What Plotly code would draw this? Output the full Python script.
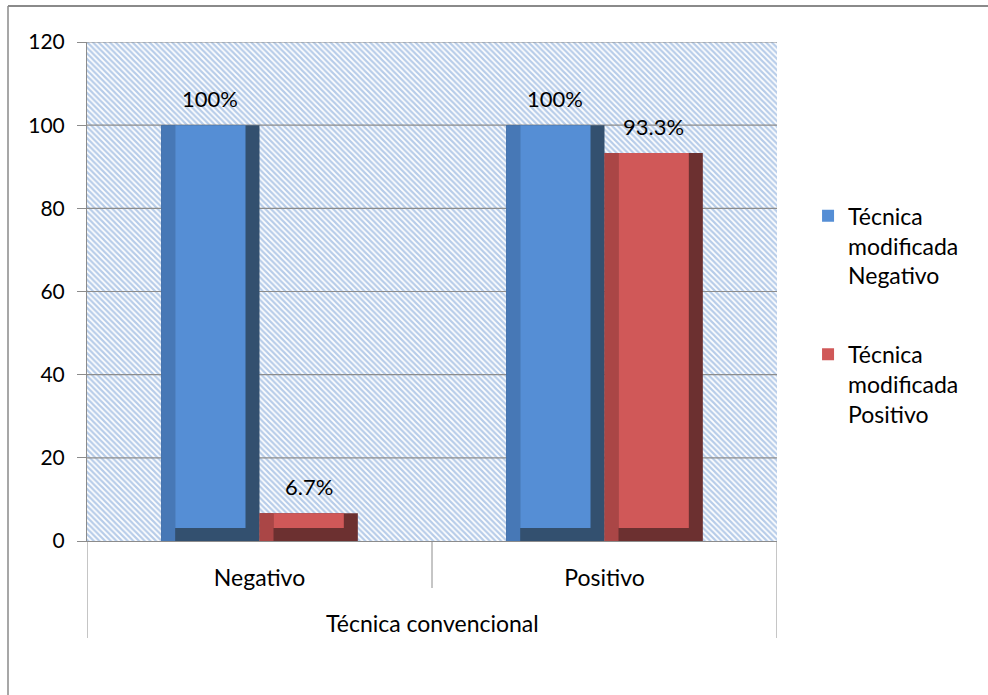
import plotly.graph_objects as go

# ---- data -------------------------------------------------------------
group_label = "Técnica convencional"
categories = ["Negativo", "Positivo"]
series_names = ["Técnica modificada Negativo", "Técnica modificada Positivo"]
values_neg = [100, 100]      # Técnica modificada Negativo
values_pos = [6.7, 93.3]     # Técnica modificada Positivo
y_ticks = [0, 20, 40, 60, 80, 100, 120]

# ---- style ------------------------------------------------------------
FONT = "Lato"
GRID = "#8c8c8c"
face_colors = ["#558ED5", "#D05858"]
left_colors = ["#4778B6", "#AA4646"]
dark_colors = ["#33506F", "#6C3030"]
HATCH = "#6F9AD3"

W, H = 988, 695
M = dict(l=87, r=211, t=42, b=154)
plot_w = W - M["l"] - M["r"]
plot_h = H - M["t"] - M["b"]
y_max = y_ticks[-1]
n_cat = len(categories)

bargap = 0.43
bar_w = (1 - bargap) / 2           # each bar, in category units
bevel_x = 14 / (plot_w / n_cat)
bevel_y = 13 / (plot_h / y_max)

fig = go.Figure()

# hatched plot-area background on the hidden numeric base axis
fig.add_trace(go.Bar(
    x=[(n_cat - 1) / 2], y=[y_max], width=[n_cat],
    marker=dict(color="white", line=dict(width=0),
                pattern=dict(shape="\\", fgcolor=HATCH, bgcolor="white",
                             size=4, solidity=0.55)),
    hoverinfo="skip", showlegend=False, xaxis="x", yaxis="y",
))

# horizontal gridlines drawn over the hatch
gx, gy = [], []
for t in y_ticks[1:]:
    gx += [-0.5, n_cat - 0.5, None]
    gy += [t, t, None]
fig.add_trace(go.Scatter(x=gx, y=gy, mode="lines",
                         line=dict(color=GRID, width=1.2),
                         hoverinfo="skip", showlegend=False,
                         xaxis="x", yaxis="y"))

# bevelled bars on the category axis
for s, (name, vals) in enumerate(zip(series_names, [values_neg, values_pos])):
    off = -bar_w if s == 0 else 0.0
    common = dict(x=categories, xaxis="x2", yaxis="y", hoverinfo="skip")
    # dark shell (right and bottom bevel)
    fig.add_trace(go.Bar(y=vals, offset=off, width=bar_w,
                         marker=dict(color=dark_colors[s], line=dict(width=0)),
                         showlegend=False, **common))
    # left bevel strip
    fig.add_trace(go.Bar(y=vals, offset=off, width=bevel_x,
                         marker=dict(color=left_colors[s], line=dict(width=0)),
                         showlegend=False, **common))
    # front face
    fig.add_trace(go.Bar(y=[v - bevel_y for v in vals], base=[bevel_y] * len(vals),
                         offset=off + bevel_x, width=bar_w - 2 * bevel_x,
                         marker=dict(color=face_colors[s], line=dict(width=0)),
                         name=name.replace("Técnica modificada ", "Técnica<br>modificada<br>"),
                         legendgroup=f"g{s}", showlegend=True, **common))

    # value labels above each bar
    for i, v in enumerate(vals):
        fig.add_annotation(x=i + off + bar_w / 2, y=v, xref="x", yref="y",
                           text=f"{v:g}%", showarrow=False, yanchor="bottom",
                           yshift=11, font=dict(family=FONT, size=22, color="black"))

# category dividers below the axis: short between categories, long at the ends
short_len = 47 / plot_h
long_len = 97 / plot_h
for b in range(n_cat + 1):
    xb = b - 0.5
    ln = long_len if b in (0, n_cat) else short_len
    fig.add_shape(type="line", xref="x", yref="paper", x0=xb, x1=xb, y0=0, y1=-ln,
                  line=dict(color=GRID, width=1))

# group label under the categories (82 px below the axis line)
fig.add_annotation(x=0.5, y=-82 / plot_h, xref="paper", yref="paper",
                   text=group_label, showarrow=False, yanchor="middle",
                   font=dict(family=FONT, size=23, color="black"))

# outer chart frame (left and top edges)
fx = -(M["l"] - 8) / plot_w
fy = 1 + (M["t"] - 6) / plot_h
fig.add_shape(type="line", xref="paper", yref="paper", x0=fx, x1=fx, y0=-1, y1=fy,
              line=dict(color="#8a8a8a", width=1.5))
fig.add_shape(type="line", xref="paper", yref="paper", x0=fx, x1=2, y0=fy, y1=fy,
              line=dict(color="#8a8a8a", width=2))

fig.update_layout(
    width=W, height=H, margin=M,
    paper_bgcolor="white", plot_bgcolor="white",
    barmode="overlay", bargap=bargap,
    font=dict(family=FONT, size=21, color="black"),
    xaxis=dict(range=[-0.5, n_cat - 0.5], visible=False, fixedrange=True),
    xaxis2=dict(type="category", overlaying="x", anchor="y", side="bottom",
                range=[-0.5, n_cat - 0.5],
                showline=True, linecolor=GRID, linewidth=1,
                ticks="", ticklabelstandoff=16, showgrid=False,
                tickfont=dict(family=FONT, size=23)),
    yaxis=dict(range=[0, y_max], tickvals=y_ticks, showgrid=False, zeroline=False,
               showline=True, linecolor=GRID, linewidth=1,
               ticks="outside", ticklen=9, tickcolor=GRID, ticklabelstandoff=8,
               tickfont=dict(family=FONT, size=21)),
    legend=dict(x=1.045, y=0.695, xanchor="left", yanchor="top", valign="top",
                traceorder="grouped", tracegroupgap=46,
                font=dict(family=FONT, size=23), bgcolor="rgba(0,0,0,0)"),
    showlegend=True,
)

fig.write_html("out.html")
